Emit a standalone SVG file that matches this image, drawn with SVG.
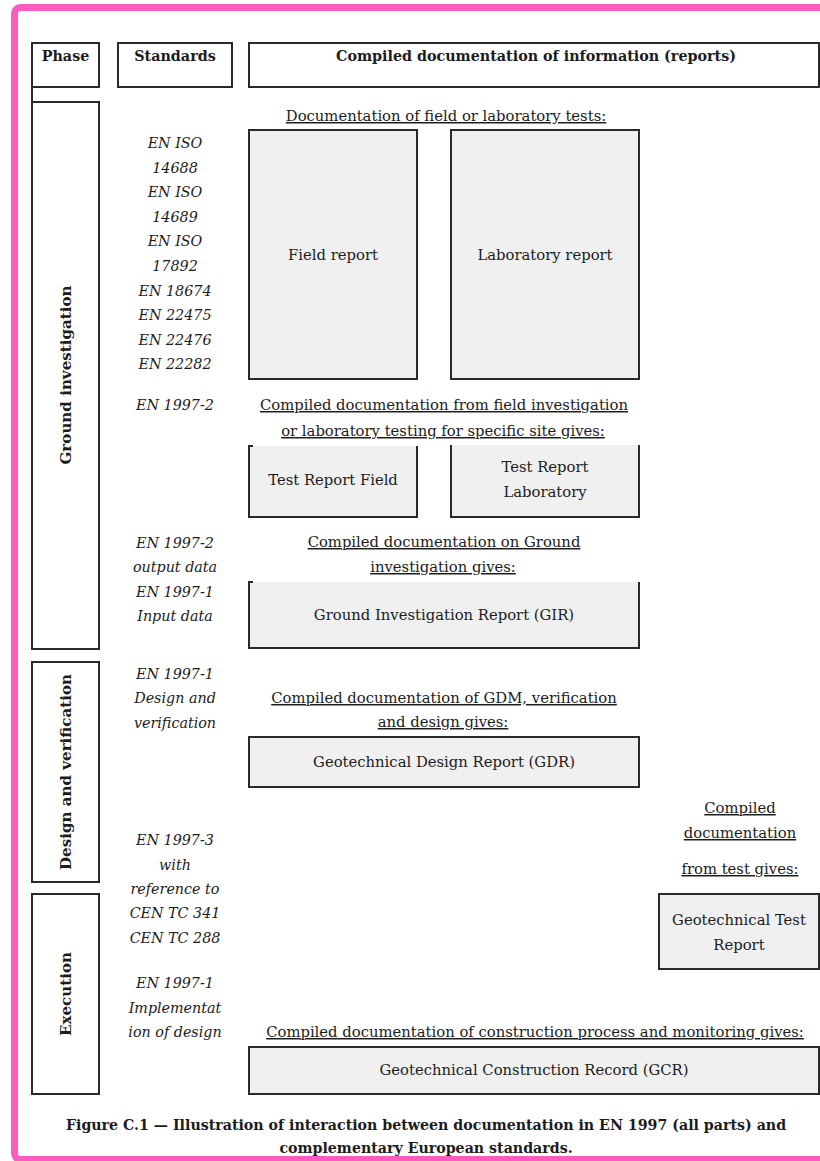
<svg xmlns="http://www.w3.org/2000/svg" width="820" height="1161" viewBox="0 0 820 1161">
<style>
text{font-family:"DejaVu Serif","Liberation Serif",serif;fill:#1c1c1c;}
.h{font-weight:bold;font-size:14.3px;}
.v{font-weight:bold;font-size:15.1px;text-anchor:middle;}
.s{font-style:italic;font-size:14.3px;text-anchor:middle;}
.t{font-size:14.8px;text-anchor:middle;}
.u{font-size:14.8px;text-anchor:middle;text-decoration:underline;}
.b{fill:none;stroke:#2a2a2a;stroke-width:2;}
.f{fill:#f0f0f0;stroke:#2a2a2a;stroke-width:2;}
.g{fill:#f0f0f0;stroke:none;}
.cap{font-weight:bold;font-size:14.2px;text-anchor:middle;}
</style>
<rect x="0" y="0" width="820" height="1161" fill="#ffffff"/>
<rect x="14.5" y="7.5" width="830" height="1152" rx="6" fill="none" stroke="#ff5ac0" stroke-width="7"/>

<g id="header-phase">
<rect class="b" x="32" y="43" width="67" height="44"/>
<line class="b" x1="32" y1="87" x2="32" y2="102"/>
<text class="h" x="65.5" y="61" text-anchor="middle">Phase</text>
</g>
<g id="header-standards">
<rect class="b" x="118" y="43" width="114" height="44"/>
<text class="h" x="175" y="61" text-anchor="middle">Standards</text>
</g>
<g id="header-compiled">
<rect class="b" x="249" y="43" width="570" height="44"/>
<text class="h" x="536" y="61" text-anchor="middle">Compiled documentation of information (reports)</text>
</g>

<g id="phase-ground">
<rect class="b" x="32" y="102" width="67" height="547"/>
<text class="v" transform="translate(71,375) rotate(-90)">Ground investigation</text>
</g>
<g id="phase-design">
<rect class="b" x="32" y="662" width="67" height="220"/>
<text class="v" transform="translate(71,772) rotate(-90)">Design and verification</text>
</g>
<g id="phase-execution">
<rect class="b" x="32" y="894" width="67" height="200"/>
<text class="v" transform="translate(71,994) rotate(-90)">Execution</text>
</g>

<g id="standards-tests">
<text class="s" x="175" y="148">EN ISO</text>
<text class="s" x="175" y="173">14688</text>
<text class="s" x="175" y="197">EN ISO</text>
<text class="s" x="175" y="222">14689</text>
<text class="s" x="175" y="246">EN ISO</text>
<text class="s" x="175" y="271">17892</text>
<text class="s" x="175" y="296">EN 18674</text>
<text class="s" x="175" y="320">EN 22475</text>
<text class="s" x="175" y="345">EN 22476</text>
<text class="s" x="175" y="369">EN 22282</text>
</g>
<g id="standards-1997-2">
<text class="s" x="175" y="410">EN 1997-2</text>
</g>
<g id="standards-gir">
<text class="s" x="175" y="548">EN 1997-2</text>
<text class="s" x="175" y="572">output data</text>
<text class="s" x="175" y="597">EN 1997-1</text>
<text class="s" x="175" y="621">Input data</text>
</g>
<g id="standards-design">
<text class="s" x="175" y="679">EN 1997-1</text>
<text class="s" x="175" y="703">Design and</text>
<text class="s" x="175" y="728">verification</text>
</g>
<g id="standards-1997-3">
<text class="s" x="175" y="845">EN 1997-3</text>
<text class="s" x="175" y="870">with</text>
<text class="s" x="175" y="894">reference to</text>
<text class="s" x="175" y="918">CEN TC 341</text>
<text class="s" x="175" y="943">CEN TC 288</text>
</g>
<g id="standards-execution">
<text class="s" x="175" y="988">EN 1997-1</text>
<text class="s" x="175" y="1013">Implementat</text>
<text class="s" x="175" y="1037">ion of design</text>
</g>

<g id="label-tests">
<text class="u" x="446" y="121">Documentation of field or laboratory tests:</text>
</g>
<g id="field-report">
<rect class="f" x="249" y="130" width="168" height="249"/>
<text class="t" x="333" y="260">Field report</text>
</g>
<g id="laboratory-report">
<rect class="f" x="451" y="130" width="188" height="249"/>
<text class="t" x="545" y="260">Laboratory report</text>
</g>

<g id="label-site">
<text class="u" x="444" y="410">Compiled documentation from field investigation</text>
<text class="u" x="443" y="436">or laboratory testing for specific site gives:</text>
</g>
<g id="test-report-field">
<rect class="g" x="249" y="446" width="168" height="71"/>
<path class="b" d="M253,446 H249 V517 H417 V446"/>
<text class="t" x="333" y="485">Test Report Field</text>
</g>
<g id="test-report-laboratory">
<rect class="g" x="451" y="445" width="188" height="72"/>
<path class="b" d="M451,445 V517 H639 V445"/>
<text class="t" x="545" y="472">Test Report</text>
<text class="t" x="545" y="497">Laboratory</text>
</g>

<g id="label-gir">
<text class="u" x="444" y="547">Compiled documentation on Ground</text>
<text class="u" x="443" y="572">investigation gives:</text>
</g>
<g id="gir">
<rect class="g" x="249" y="582" width="390" height="66"/>
<path class="b" d="M253,582 H249 V648 H639 V582"/>
<text class="t" x="444" y="620">Ground Investigation Report (GIR)</text>
</g>

<g id="label-gdr">
<text class="u" x="444" y="703">Compiled documentation of GDM, verification</text>
<text class="u" x="443" y="727">and design gives:</text>
</g>
<g id="gdr">
<rect class="f" x="249" y="737" width="390" height="50"/>
<text class="t" x="444" y="767">Geotechnical Design Report (GDR)</text>
</g>

<g id="label-test">
<text class="u" x="740" y="813">Compiled</text>
<text class="u" x="740" y="838">documentation</text>
<text class="u" x="740" y="874">from test gives:</text>
</g>
<g id="geotechnical-test-report">
<rect class="f" x="659" y="894" width="160" height="75"/>
<text class="t" x="739" y="925">Geotechnical Test</text>
<text class="t" x="739" y="950">Report</text>
</g>

<g id="label-gcr">
<text class="u" x="535" y="1037">Compiled documentation of construction process and monitoring gives:</text>
</g>
<g id="gcr">
<rect class="f" x="249" y="1047" width="570" height="47"/>
<text class="t" x="534" y="1075">Geotechnical Construction Record (GCR)</text>
</g>

<g id="caption">
<text class="cap" x="426" y="1130">Figure C.1 — Illustration of interaction between documentation in EN 1997 (all parts) and</text>
<text class="cap" x="426" y="1153">complementary European standards.</text>
</g>
</svg>
